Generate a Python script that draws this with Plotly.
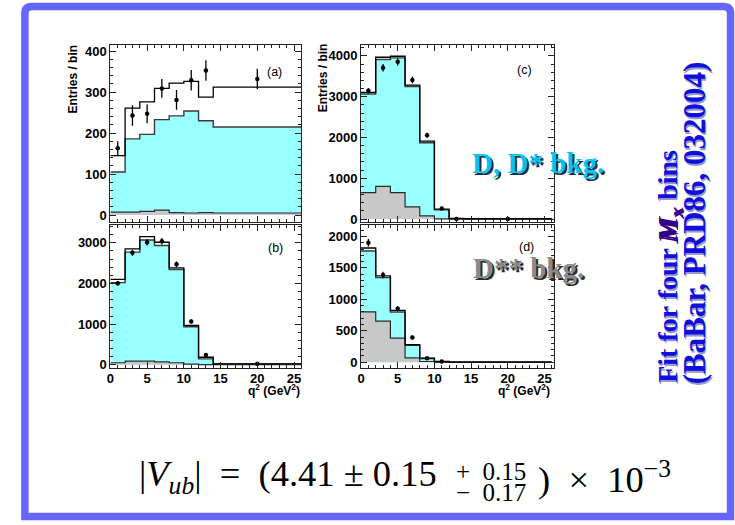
import plotly.graph_objects as go

W, H = 735, 525
def px(x): return x / W
def py(y): return 1 - y / H

# ---------------- data ----------------
bin_edges = [0, 2, 4, 6, 8, 10, 12, 14, 26]
point_x = [1, 3, 5, 7, 9, 11, 13, 20]

# panel (a)
a_total = [145, 261, 276, 309, 322, 326, 288, 312]
a_cyan = [105, 186, 197, 233, 242, 254, 230, 215]
a_gray = [7, 7, 9, 12, 6, 5, 6, 5]
a_data = [163, 243, 247, 309, 281, 329, 353, 332]
a_err = [17, 25, 23, 23, 24, 25, 25, 25]

# panel (b)
b_total = [2102, 2854, 3153, 3015, 2385, 970, 186, 24]
b_cyan = [2021, 2773, 3072, 2935, 2344, 938, 146, 20]
b_gray = [50, 90, 90, 70, 50, 15, 5, 3]
b_data = [2005, 2757, 3015, 3040, 2474, 1067, 243, 24]
b_err = [60, 75, 80, 80, 70, 45, 25, 10]

# panel (c)
c_total = [3105, 3968, 3992, 3282, 1911, 242, 15, 10]
c_cyan = [3065, 3911, 3952, 3250, 1871, 226, 10, 5]
c_gray = [650, 800, 650, 300, 80, 5, 0, 0]
c_data = [3145, 3710, 3855, 3411, 2056, 258, 0, 0]
c_err = [70, 90, 90, 80, 60, 25, 5, 5]

# panel (d)
d_total = [1817, 1372, 822, 277, 63, 10, 0, 0]
d_cyan = [1770, 1345, 796, 267, 58, 5, 0, 0]
d_gray = [801, 654, 382, 68, 10, 0, 0, 0]
d_points_x = [1, 3, 5, 7, 9, 11]
d_data = [1900, 1387, 848, 393, 63, 10]
d_err = [60, 50, 40, 30, 15, 5]

# ---------------- figure ----------------
fig = go.Figure()

CYAN = "#99ffff"
GRAY = "#c8c8c8"

def step(vals):
    return vals + [vals[-1]]

def add_panel(n, total, cyan, gray, xs, data, err):
    xa = "x" if n == 1 else f"x{n}"
    ya = "y" if n == 1 else f"y{n}"
    fig.add_trace(go.Scatter(x=bin_edges, y=step(cyan), mode="lines", line_shape="hv",
                             fill="tozeroy", fillcolor=CYAN,
                             line=dict(color="#3a3a3a", width=1.4),
                             xaxis=xa, yaxis=ya, showlegend=False, hoverinfo="skip"))
    fig.add_trace(go.Scatter(x=bin_edges, y=step(gray), mode="lines", line_shape="hv",
                             fill="tozeroy", fillcolor=GRAY,
                             line=dict(color="#2a2a2a", width=1.2),
                             xaxis=xa, yaxis=ya, showlegend=False, hoverinfo="skip"))
    fig.add_trace(go.Scatter(x=bin_edges, y=step(total), mode="lines", line_shape="hv",
                             line=dict(color="black", width=1.3),
                             xaxis=xa, yaxis=ya, showlegend=False, hoverinfo="skip"))
    fig.add_trace(go.Scatter(x=xs, y=data, mode="markers",
                             marker=dict(color="black", size=4.5),
                             error_y=dict(type="data", array=err, color="black",
                                          thickness=1.3, width=0),
                             xaxis=xa, yaxis=ya, showlegend=False))

add_panel(1, a_total, a_cyan, a_gray, point_x, a_data, a_err)
add_panel(2, b_total, b_cyan, b_gray, point_x, b_data, b_err)
add_panel(3, c_total, c_cyan, c_gray, point_x, c_data, c_err)
add_panel(4, d_total, d_cyan, d_gray, d_points_x, d_data, d_err)

tickfont = dict(family="Liberation Sans", size=13, color="black", weight="bold")

def xax(x0, x1, rng, labels, anchor):
    return dict(domain=[px(x0), px(x1)], range=rng, anchor=anchor,
                showline=True, linecolor="#222", linewidth=1, mirror="allticks",
                ticks="inside", ticklen=6, tickwidth=1, tickcolor="#222",
                tick0=0, dtick=5, showgrid=False, zeroline=False,
                showticklabels=labels, tickfont=tickfont, ticklabelstandoff=-2,
                minor=dict(dtick=1, ticks="inside", ticklen=3, tickcolor="#222", showgrid=False))

def yax(y0, y1, rng, dtick, mdtick, anchor):
    return dict(domain=[py(y1), py(y0)], range=rng, anchor=anchor,
                showline=True, linecolor="#222", linewidth=1, mirror="allticks",
                ticks="inside", ticklen=6, tickwidth=1, tickcolor="#222",
                tick0=0, dtick=dtick, showgrid=False, zeroline=False,
                tickfont=tickfont,
                minor=dict(dtick=mdtick, ticks="inside", ticklen=3, tickcolor="#222", showgrid=False))

# pixel frames of the panels (x0, x1, ytop, ybottom)
A = (107, 299, 44, 223)
B = (107, 299, 226, 371)
C = (359, 553, 44, 223)
D = (359, 553, 226, 371)

fig.update_layout(
    width=W, height=H, margin=dict(l=0, r=0, t=0, b=0),
    paper_bgcolor="white", plot_bgcolor="rgba(0,0,0,0)",
    xaxis=xax(A[0], A[1], [0, 26], False, "y"),
    yaxis=yax(A[2], A[3], [-17, 414], 100, 20, "x"),
    xaxis2=xax(B[0], B[1], [0, 26], True, "y2"),
    yaxis2=yax(B[2], B[3], [-80, 3440], 1000, 200, "x2"),
    xaxis3=xax(C[0], C[1], [0, 26.3], False, "y3"),
    yaxis3=yax(C[2], C[3], [-73, 4258], 1000, 200, "x3"),
    xaxis4=xax(D[0], D[1], [0, 26.3], True, "y4"),
    yaxis4=yax(D[2], D[3], [-94, 2183], 500, 100, "x4"),
)

ann = []
def text(x, y, s, size, color="black", family="Liberation Sans", angle=0,
         xanchor="center", yanchor="middle", weight="normal", xshift=0, yshift=0):
    ann.append(dict(x=px(x), y=py(y), xref="paper", yref="paper", text=s, showarrow=False,
                    font=dict(family=family, size=size, color=color, weight=weight),
                    textangle=angle, xanchor=xanchor, yanchor=yanchor,
                    xshift=xshift, yshift=yshift))

# panel labels
text(272, 71, "(a)", 12.5)
text(273, 249, "(b)", 12.5)
text(523, 69, "(c)", 12.5)
text(525, 248, "(d)", 12.5)

# axis titles
text(69, 78, "Entries / bin", 12, weight="bold", angle=-90)
text(321, 77, "Entries / bin", 12, weight="bold", angle=-90)
text(300, 393, "q<sup>2</sup> (GeV<sup>2</sup>)", 12, weight="bold", xanchor="right")
text(551, 393, "q<sup>2</sup> (GeV<sup>2</sup>)", 12, weight="bold", xanchor="right")

# overlay labels with shadows
serif = "Liberation Serif"
text(537, 163, "D, D* bkg.", 29, color="#1c2c44", family=serif, weight="bold", xshift=2, yshift=-2)
text(537, 163, "D, D* bkg.", 29, color="#00c4f4", family=serif, weight="bold")
text(527, 270, "D** bkg.", 29, color="#2a2a2a", family=serif, weight="bold", xshift=2, yshift=-2)
text(527, 270, "D** bkg.", 29, color="#8a8a8a", family=serif, weight="bold")

line1 = "Fit for four <span style='color:#330088'><i>M</i><sub><i>x</i></sub></span> bins"
line2 = "(BaBar, PRD86, 032004)"
text(669, 268, line1, 28, color="#9999cc", family=serif, weight="bold", angle=-90, xshift=1.5, yshift=-1.5)
text(669, 268, line1, 28, color="#1010dd", family=serif, weight="bold", angle=-90)
text(694, 224, line2, 31, color="#9999cc", family=serif, weight="bold", angle=-90, xshift=1.5, yshift=-1.5)
text(694, 224, line2, 31, color="#1010dd", family=serif, weight="bold", angle=-90)

# formula
text(437, 481, "|<i>V</i><sub><i>ub</i></sub>|&nbsp;&nbsp;=&nbsp;&nbsp;(4.41 ± 0.15", 36.5,
     family=serif, xanchor="right")
text(452, 476, "+&nbsp;&nbsp;0.15", 25, family=serif, xanchor="left")
text(452, 497, "−&nbsp;&nbsp;0.17", 25, family=serif, xanchor="left")
text(535, 481, ")&nbsp;&nbsp;×&nbsp;&nbsp;10<sup>−3</sup>", 36.5, family=serif, xanchor="left")

fig.update_layout(annotations=ann)

# slide frame
x0, x1, yt, yb, r = 21, 730.5, 4.5, 521.5, 7
path = (f"M {px(x0)},{py(yb)} L {px(x0)},{py(yt + r)} Q {px(x0)},{py(yt)} {px(x0 + r)},{py(yt)} "
        f"L {px(x1 - r)},{py(yt)} Q {px(x1)},{py(yt)} {px(x1)},{py(yt + r)} L {px(x1)},{py(yb)} Z")
fig.add_shape(type="path", path=path, xref="paper", yref="paper",
              line=dict(color="#6666ff", width=7.5), layer="above")

fig.write_html("out.html", config={"displayModeBar": False},
               post_script="document.body.style.margin='0';document.body.style.overflow='hidden';")
